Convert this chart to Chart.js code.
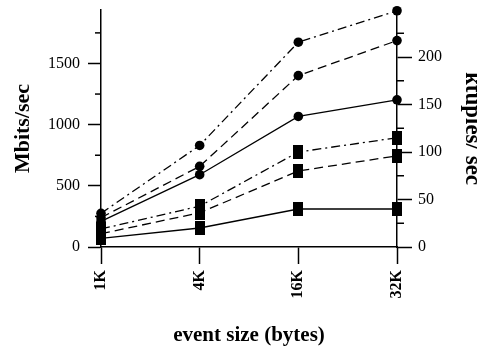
<!DOCTYPE html>
<html><head><meta charset="utf-8">
<script src="https://cdn.jsdelivr.net/npm/chart.js@4/dist/chart.umd.min.js"></script>
<style>html,body{margin:0;padding:0;background:#fff;overflow:hidden}#wrap{width:477px;height:351px;position:relative}</style>
</head><body><div id="wrap"><canvas id="c" width="477" height="351"></canvas></div>
<script>
const categories = ['1K', '4K', '16K', '32K'];
const mbitsDashDot = [275, 830, 1674, 1931];
const mbitsDashed = [240, 659, 1401, 1687];
const mbitsSolid = [210, 591, 1067, 1203];
const ktuplesDashDot = [19, 43, 100, 115];
const ktuplesDashed = [14, 36, 80, 96];
const ktuplesSolid = [9, 20, 40, 40];
const leftTickValues = [0, 500, 1000, 1500];
const leftMinorValues = [250, 750, 1250, 1750];
const rightTickValues = [0, 50, 100, 150, 200];
const rightMinorValues = [25, 75, 125, 175, 225];

const sq = document.createElement('canvas');
sq.width = 10; sq.height = 14;
const g = sq.getContext('2d'); g.fillStyle = '#000'; g.fillRect(0, 0, 10, 14);

const FONT = 'Liberation Serif';
const DASH = [9, 5];
const DASHDOT = [9, 4, 2, 4];

function ds(data, axis, dash, style) {
  return {
    data, yAxisID: axis, borderColor: '#000', backgroundColor: '#000', borderWidth: 1.3,
    borderDash: dash, tension: 0, fill: false, clip: false,
    pointStyle: style === 'sq' ? sq : 'circle', pointRadius: style === 'sq' ? 7 : 4.8,
    pointBackgroundColor: '#000', pointBorderColor: '#000', pointBorderWidth: 0
  };
}

const minorTicks = {
  id: 'minorTicks',
  afterDraw(chart) {
    const ctx = chart.ctx; ctx.save(); ctx.strokeStyle = '#000'; ctx.lineWidth = 1.5;
    const yl = chart.scales.yL;
    leftMinorValues.forEach(v => {
      const y = yl.getPixelForValue(v);
      ctx.beginPath(); ctx.moveTo(yl.right - 6, y); ctx.lineTo(yl.right, y); ctx.stroke();
    });
    const yr = chart.scales.yR;
    rightMinorValues.forEach(v => {
      const y = yr.getPixelForValue(v);
      ctx.beginPath(); ctx.moveTo(yr.left, y); ctx.lineTo(yr.left + 7, y); ctx.stroke();
    });
    ctx.restore();
  }
};

new Chart(document.getElementById('c'), {
  type: 'line',
  data: {
    labels: categories,
    datasets: [
      ds(mbitsDashDot, 'yL', DASHDOT, 'c'),
      ds(mbitsDashed, 'yL', DASH, 'c'),
      ds(mbitsSolid, 'yL', [], 'c'),
      ds(ktuplesDashDot, 'yR', DASHDOT, 'sq'),
      ds(ktuplesDashed, 'yR', DASH, 'sq'),
      ds(ktuplesSolid, 'yR', [], 'sq')
    ]
  },
  options: {
    responsive: false, animation: false,
    layout: { padding: { top: 10, left: 0, right: 0, bottom: 0 } },
    plugins: { legend: { display: false }, tooltip: { enabled: false } },
    scales: {
      x: {
        type: 'category', offset: false,
        grid: { drawOnChartArea: false, tickLength: 17, tickColor: '#000', tickWidth: 1.5 },
        border: { display: true, color: '#000', width: 1.5 },
        ticks: { maxRotation: 90, minRotation: 90, padding: 6, color: '#000', font: { family: FONT, size: 16, weight: 'bold' } },
        title: { display: true, text: 'event size (bytes)', color: '#000', font: { family: FONT, size: 21, weight: 'bold' }, padding: { top: 0, bottom: 3 } },
        afterFit(s) { s.height = 104; }
      },
      yL: {
        position: 'left', min: 0, max: 1937,
        afterBuildTicks(s) { s.ticks = leftTickValues.map(v => ({ value: v })); },
        grid: { drawOnChartArea: false, tickLength: 13, tickColor: '#000', tickWidth: 1.5 },
        border: { display: true, color: '#000', width: 1.5 },
        ticks: { padding: 8, color: '#000', font: { family: FONT, size: 16 }, callback: v => String(v) },
        title: { display: true, text: 'Mbits/sec', color: '#000', font: { family: FONT, size: 22, weight: 'bold' }, padding: { top: 10, bottom: 0 } },
        afterFit(s) { s.width = 101; s.paddingTop = 0; }
      },
      yR: {
        position: 'right', min: 0, max: 249.5,
        afterBuildTicks(s) { s.ticks = rightTickValues.map(v => ({ value: v })); },
        grid: { drawOnChartArea: false, tickLength: 15, tickColor: '#000', tickWidth: 1.5 },
        border: { display: true, color: '#000', width: 1.5 },
        ticks: { padding: 6, color: '#000', font: { family: FONT, size: 16 }, callback: v => String(v) },
        title: { display: true, text: 'ktuples/ sec', color: '#000', font: { family: FONT, size: 23, weight: 'bold' }, padding: { top: -9, bottom: 0 } },
        afterFit(s) { s.width = 80; s.paddingTop = 0; }
      }
    }
  },
  plugins: [minorTicks]
});
</script></body></html>
